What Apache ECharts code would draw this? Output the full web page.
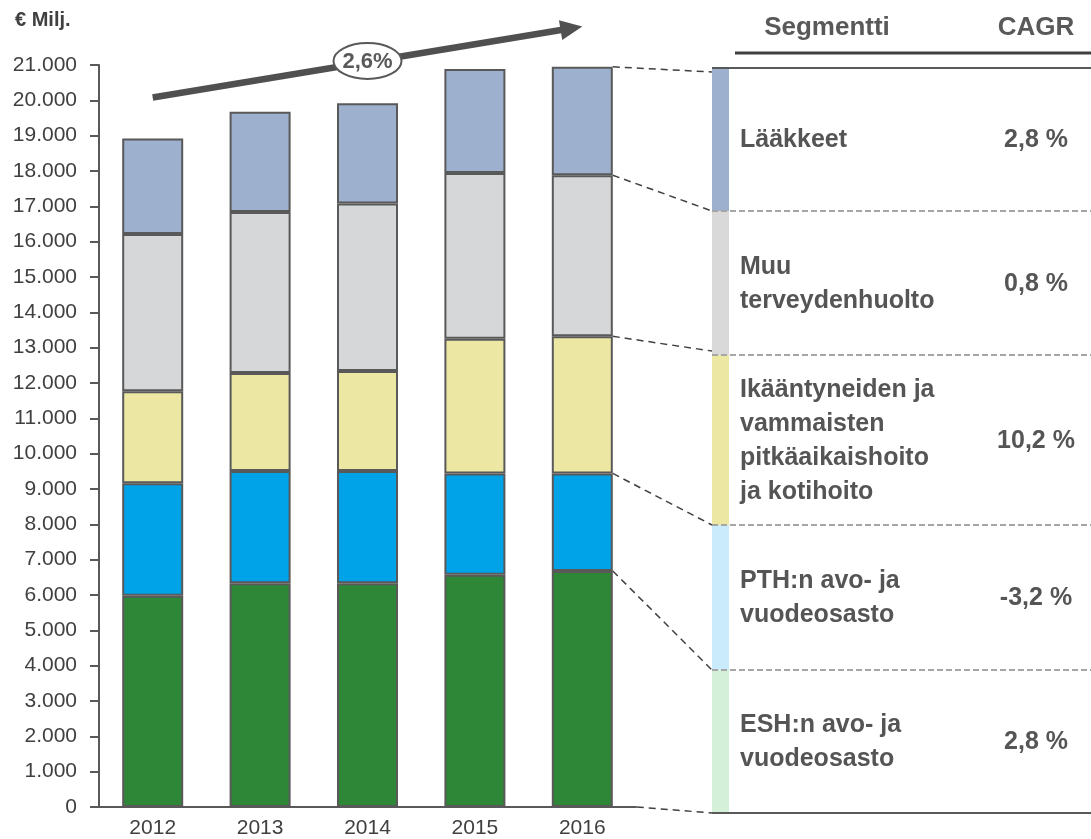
<!DOCTYPE html>
<html>
<head>
<meta charset="utf-8">
<script src="https://cdn.jsdelivr.net/npm/echarts@6/dist/echarts.min.js"></script>
<style>
html, body { margin: 0; padding: 0; background: #fff; }
#main { width: 1091px; height: 839px; }
</style>
</head>
<body>
<div id="main"></div>
<script>
// data (€ milj.)
var years = ['2012', '2013', '2014', '2015', '2016'];
var esh = [5980, 6330, 6330, 6570, 6680];
var pth = [3180, 3180, 3180, 2870, 2760];
var ikaantyneet = [2610, 2770, 2830, 3810, 3880];
var muu = [4450, 4560, 4740, 4690, 4560];
var laakkeet = [2700, 2840, 2840, 2950, 3070];

// table (top to bottom)
var segmentLabels = ['Lääkkeet', 'Muu\nterveydenhuolto', 'Ikääntyneiden ja\nvammaisten\npitkäaikaishoito\nja kotihoito', 'PTH:n avo- ja\nvuodeosasto', 'ESH:n avo- ja\nvuodeosasto'];
var cagrLabels = ['2,8 %', '0,8 %', '10,2 %', '-3,2 %', '2,8 %'];
var totalCagr = '2,6%';

var FONT = '"Liberation Sans", Arial, sans-serif';
var barColors = ['#2E8637', '#00A2E8', '#ECE7A3', '#D6D7D9', '#9DB0CD'];
var stripColors = ['#9DB0CD', '#D9D9D9', '#ECE7A3', '#C9EBFB', '#D5F0D8'];

var myChart = echarts.init(document.getElementById('main'));

function fmt(v) {
    return String(v).replace(/\B(?=(\d{3})+(?!\d))/g, '.');
}

function barSeries(name, data, color) {
    return {
        name: name,
        type: 'bar',
        stack: 'total',
        barWidth: 61,
        data: data,
        itemStyle: { color: color, borderColor: '#595959', borderWidth: 2 }
    };
}

var option = {
    animation: false,
    textStyle: { fontFamily: FONT },
    grid: { left: 99, right: 455, top: 65, bottom: 32 },
    xAxis: {
        type: 'category',
        data: years,
        axisLine: { lineStyle: { color: '#595959', width: 2 } },
        axisTick: { show: false },
        axisLabel: { color: '#404040', fontSize: 21, margin: 11 }
    },
    yAxis: {
        type: 'value',
        min: 0,
        max: 21000,
        interval: 1000,
        splitLine: { show: false },
        axisLine: { show: true, lineStyle: { color: '#595959', width: 2 } },
        axisTick: { show: true, length: 9, lineStyle: { color: '#595959', width: 2 } },
        axisLabel: { color: '#404040', fontSize: 21, margin: 22, formatter: fmt }
    },
    series: [
        barSeries('ESH:n avo- ja vuodeosasto', esh, barColors[0]),
        barSeries('PTH:n avo- ja vuodeosasto', pth, barColors[1]),
        barSeries('Ikääntyneiden ja vammaisten pitkäaikaishoito ja kotihoito', ikaantyneet, barColors[2]),
        barSeries('Muu terveydenhuolto', muu, barColors[3]),
        barSeries('Lääkkeet', laakkeet, barColors[4])
    ]
};

myChart.setOption(option);

// annotations: table on the right, connectors, growth arrow
function px(i, v) {
    return myChart.convertToPixel({ gridIndex: 0 }, [i, v]);
}

var rowEdges = [68, 211, 355, 525, 670, 813];
var connectorTargets = [72, 211, 351, 525, 670, 813];
var tableLeft = 712, tableRight = 1091;
var g = [];

g.push({ type: 'text', left: 15, top: 10, style: { text: '€ Milj.', font: 'bold 20px ' + FONT, fill: '#404040' } });
g.push({ type: 'text', x: 827, y: 28, style: { text: 'Segmentti', font: 'bold 26px ' + FONT, fill: '#595959', align: 'center', verticalAlign: 'middle' } });
g.push({ type: 'text', x: 1036, y: 28, style: { text: 'CAGR', font: 'bold 26px ' + FONT, fill: '#595959', align: 'center', verticalAlign: 'middle' } });
g.push({ type: 'line', shape: { x1: 735, y1: 53, x2: tableRight, y2: 53 }, style: { stroke: '#404040', lineWidth: 3 } });

for (var r = 0; r < 5; r++) {
    var y0 = rowEdges[r], y1 = rowEdges[r + 1];
    g.push({ type: 'rect', shape: { x: tableLeft, y: y0, width: 17, height: y1 - y0 }, style: { fill: stripColors[r] } });
    g.push({ type: 'text', x: 740, y: (y0 + y1) / 2 + 1, style: { text: segmentLabels[r], font: 'bold 25px ' + FONT, lineHeight: 34, fill: '#555555', verticalAlign: 'middle' } });
    g.push({ type: 'text', x: 1036, y: (y0 + y1) / 2 + 1, style: { text: cagrLabels[r], font: 'bold 25px ' + FONT, fill: '#555555', align: 'center', verticalAlign: 'middle' } });
    if (r > 0) {
        g.push({ type: 'line', shape: { x1: tableLeft, y1: y0, x2: tableRight, y2: y0 }, style: { stroke: '#A6A6A6', lineWidth: 2, lineDash: [6, 3] } });
    }
}
g.push({ type: 'line', shape: { x1: tableLeft, y1: rowEdges[0], x2: tableRight, y2: rowEdges[0] }, style: { stroke: '#595959', lineWidth: 2 } });
g.push({ type: 'line', shape: { x1: tableLeft, y1: rowEdges[5], x2: tableRight, y2: rowEdges[5] }, style: { stroke: '#595959', lineWidth: 2 } });

// connectors from last bar segment edges to the table rows
var last = years.length - 1;
var cum = [0, esh[last], esh[last] + pth[last]];
cum.push(cum[2] + ikaantyneet[last]);
cum.push(cum[3] + muu[last]);
cum.push(cum[4] + laakkeet[last]);
var edgeValues = cum.slice().reverse(); // top to bottom
for (var k = 0; k < edgeValues.length; k++) {
    var p = px(last, edgeValues[k]);
    var sx = p[0] + 30.5 + (k === edgeValues.length - 1 ? 24 : 0);
    g.push({ type: 'line', shape: { x1: sx, y1: p[1], x2: tableLeft, y2: connectorTargets[k] }, style: { stroke: '#404040', lineWidth: 1.5, lineDash: [7, 5] } });
}

// growth arrow
var a = px(0, 20080), b = px(last, 22090);
var dx = b[0] - a[0], dy = b[1] - a[1], len = Math.sqrt(dx * dx + dy * dy);
var ux = dx / len, uy = dy / len;
var headLen = 22, headW = 10;
var bx = b[0] - headLen * ux, by = b[1] - headLen * uy;
g.push({ type: 'line', shape: { x1: a[0], y1: a[1], x2: bx + ux * 2, y2: by + uy * 2 }, style: { stroke: '#505050', lineWidth: 6.5 } });
g.push({ type: 'polygon', shape: { points: [[b[0], b[1]], [bx - headW * uy, by + headW * ux], [bx + headW * uy, by - headW * ux]] }, style: { fill: '#505050' } });
var mx = (a[0] + b[0]) / 2, my = (a[1] + b[1]) / 2 - 1;
g.push({ type: 'ellipse', shape: { cx: mx, cy: my, rx: 34, ry: 18 }, style: { fill: '#fff', stroke: '#595959', lineWidth: 2 } });
g.push({ type: 'text', x: mx, y: my + 1, style: { text: totalCagr, font: 'bold 22px ' + FONT, fill: '#595959', align: 'center', verticalAlign: 'middle' } });

myChart.setOption({ graphic: g });

window.onresize = function () {
    myChart.resize();
};
</script>
</body>
</html>
